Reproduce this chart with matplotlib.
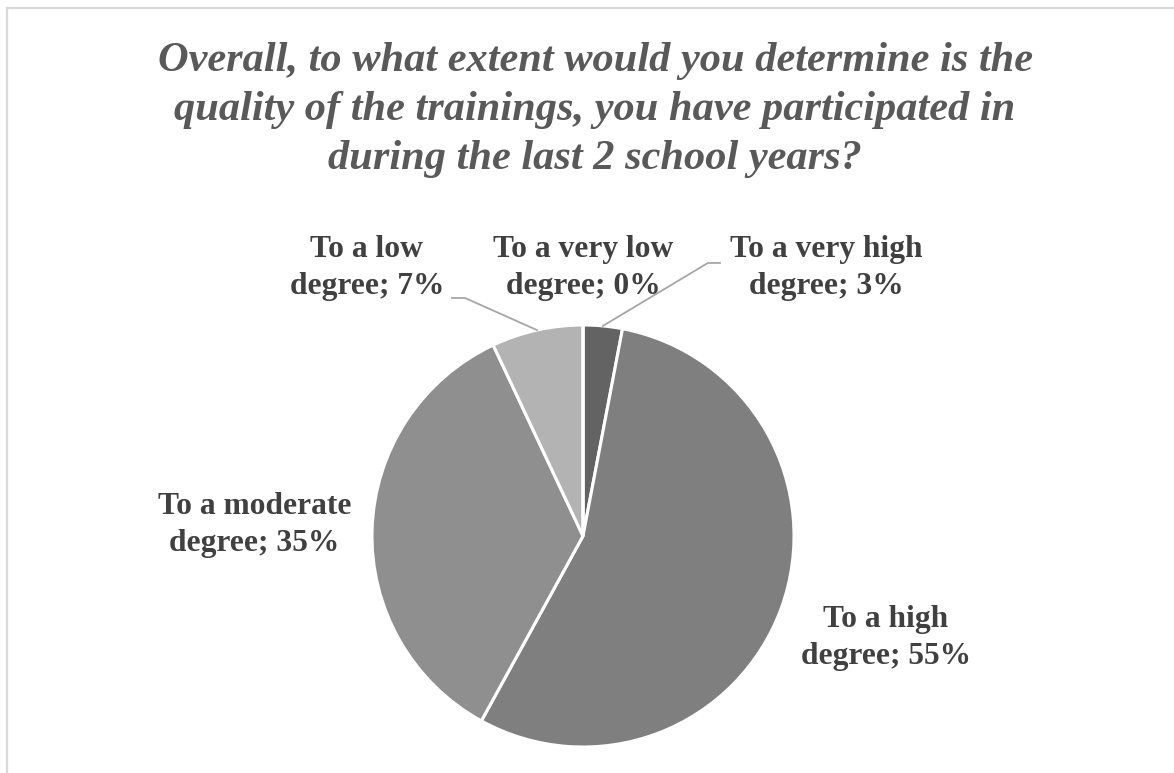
import numpy as np
import matplotlib.pyplot as plt
from matplotlib.lines import Line2D

# Survey answers, clockwise from 12 o'clock
categories = ["To a very high\ndegree", "To a high\ndegree", "To a moderate\ndegree",
              "To a low\ndegree", "To a very low\ndegree"]
shares = [3, 55, 35, 7, 0]
colors = ["#636363", "#7f7f7f", "#8f8f8f", "#b3b3b3", "#d0d0d0"]

# label centres in pie-radius units, and leader lines (bend, end) where drawn
label_pos = [(1.152, 1.27), (1.436, -0.483), (-1.557, 0.052), (-1.024, 1.27), (0.0, 1.27)]
leader_bend = [(0.592, 1.294), None, None, (-0.559, 1.128), None]
leader_end = [(0.649, 1.294), None, None, (-0.621, 1.128), None]

title = ("Overall, to what extent would you determine is the\n"
         "quality of the trainings, you have participated in\n"
         "during the last 2 school years?")

W, H = 1174, 773
fig = plt.figure(figsize=(W / 100, H / 100), dpi=100)
cx, cy, r = 583, 536, 211
ax = fig.add_axes([(cx - r) / W, (H - cy - r) / H, 2 * r / W, 2 * r / H])

wedges, _ = ax.pie(shares, colors=colors, startangle=90, counterclock=False, radius=1,
                   wedgeprops=dict(edgecolor="white", linewidth=2.2))
ax.set_xlim(-1, 1)
ax.set_ylim(-1, 1)
ax.set_aspect("auto")
ax.axis("off")

serif = ["Liberation Serif", "DejaVu Serif"]
for w, cat, s, pos, bend, end in zip(wedges, categories, shares, label_pos, leader_bend, leader_end):
    ax.text(pos[0], pos[1], f"{cat}; {s}%", ha="center", va="center", fontsize=22.7,
            fontweight="bold", family=serif, color="#404040", linespacing=1.33, clip_on=False)
    if bend is not None:
        mid = np.deg2rad((w.theta1 + w.theta2) / 2)
        ax.plot([np.cos(mid), bend[0], end[0]], [np.sin(mid), bend[1], end[1]],
                color="#a6a6a6", lw=1.3, clip_on=False)

fig.text(595 / W, 1 - 110 / H, title, ha="center", va="center", fontsize=30.5,
         fontweight="bold", fontstyle="italic", family=serif, color="#595959", linespacing=1.38)

# chart frame (cut off at the right and bottom)
bx, by = 6.5 / W, 1 - 7.5 / H
fig.add_artist(Line2D([bx, bx], [0, by], color="#d9d9d9", lw=1.6))
fig.add_artist(Line2D([bx, 1], [by, by], color="#d9d9d9", lw=1.6))

fig.savefig("out.png", dpi=100, facecolor="white")
